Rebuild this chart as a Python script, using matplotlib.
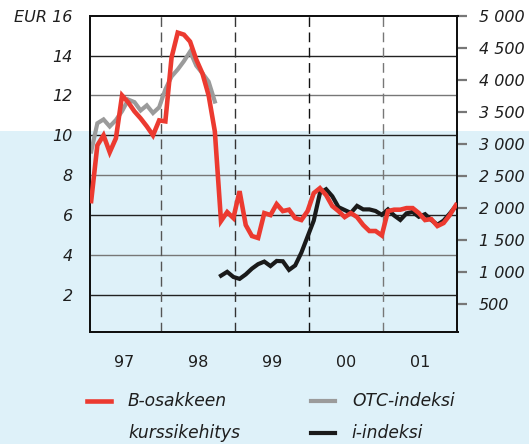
import matplotlib.pyplot as plt
from matplotlib.lines import Line2D
from matplotlib.patches import Rectangle
from matplotlib.ticker import FuncFormatter, FixedLocator

plt.rcParams['font.family'] = ['DejaVu Sans']

# monthly values, Jan 1997 - Dec 2001
b_share = [6.7, 9.5, 10.0, 9.15, 9.85, 12.0, 11.65, 11.2, 10.85, 10.45, 10.0, 10.75,
           10.7, 13.9, 15.15, 15.05, 14.7, 13.8, 13.1, 12.0, 10.2, 5.7, 6.15, 5.85,
           7.2, 5.5, 4.95, 4.85, 6.1, 6.0, 6.55, 6.2, 6.27, 5.85, 5.75, 6.2,
           7.1, 7.35, 7.0, 6.45, 6.2, 5.9, 6.1, 5.9, 5.5, 5.2, 5.2, 4.98,
           6.2, 6.27, 6.27, 6.35, 6.35, 6.1, 5.75, 5.8, 5.45, 5.6, 6.0, 6.5]
# OTC index, Jan 1997 - Sep 1998
otc_index = [2880, 3320, 3380, 3270, 3370, 3510, 3690, 3650, 3520, 3600, 3480, 3570,
             3850, 4050, 4160, 4290, 4440, 4220, 4100, 3970, 3660]
# i-index, Oct 1998 - Dec 2001
i_index = [940, 1000, 920, 890, 960, 1050, 1120, 1160, 1090, 1170, 1165, 1030,
           1100, 1300, 1550, 1800, 2230, 2290, 2180, 2010, 1965, 1920, 2030, 1975,
           1975, 1950, 1890, 1975, 1880, 1810, 1913, 1935, 1860, 1900, 1810, 1735,
           1800, 1910, 2030]

years = [1997, 1998, 1999, 2000, 2001]
year_labels = ["97", "98", "99", "00", "01"]

months = [1997 + (i + 0.75) / 12 for i in range(len(b_share))]
i_start = len(b_share) - len(i_index)

red = "#ec3a30"
gray = "#9b9b9b"
black = "#1a1a1a"
bg = "#def1f9"
txt = "#1e1e1e"

fig = plt.figure(figsize=(5.29, 4.44), dpi=100)
fig.patch.set_facecolor("white")
fig.patches.append(Rectangle((0, 0), 1, 1 - 131 / 444, transform=fig.transFigure,
                             facecolor=bg, edgecolor="none", zorder=-10))

ax = fig.add_axes([89.5 / 529, 1 - 331.7 / 444, 368 / 529, 316 / 444])
ax2 = ax.twinx()
ax.set_zorder(ax2.get_zorder() + 1)
ax.patch.set_visible(False)
ax2.patch.set_facecolor("white")

ax.set_xlim(1997.04, 2002.0)
ax.set_ylim(0.15, 16)
ax2.set_ylim(65, 5000)

# grid lines under the data
levels = [2, 4, 6, 8, 10, 12, 14]
for lv in levels:
    col = "#777777" if lv % 4 == 0 else "#222222"
    ax2.plot([0, 1], [lv, lv], transform=ax.get_yaxis_transform(),
             color=col, lw=1.0, zorder=1)
vcols = {1998: "#555555", 1999: "#333333", 2000: "#111111", 2001: "#777777"}
for yr in years[1:]:
    ax2.axvline(yr, color=vcols[yr], lw=1.0, dashes=(7, 4), zorder=1)

ax2.plot(months[:len(otc_index)], otc_index, color=gray, lw=3.0,
         solid_joinstyle="miter", zorder=3)
ax2.plot(months[i_start:], i_index, color=black, lw=3.0,
         solid_joinstyle="miter", zorder=3)
ax.plot(months, b_share, color=red, lw=3.3, solid_joinstyle="miter", zorder=4)

fs = 11.5

# left axis
ax.yaxis.set_major_locator(FixedLocator([2, 4, 6, 8, 10, 12, 14, 16]))
ax.yaxis.set_major_formatter(FuncFormatter(
    lambda v, p: "EUR 16" if v == 16 else f"{int(v)}"))
ax.tick_params(axis="y", length=0, pad=12, labelsize=fs, labelcolor=txt)
for t in ax.get_yticklabels():
    t.set_fontstyle("italic")

# x axis: labels centred on each year
ax.xaxis.set_major_locator(FixedLocator([]))
ax.xaxis.set_minor_locator(FixedLocator([y + 0.5 for y in years]))
ax.xaxis.set_minor_formatter(FuncFormatter(
    lambda v, p: year_labels[int(v - 1997)]))
ax.tick_params(axis="x", which="minor", length=0, pad=17, labelsize=fs,
               labelcolor=txt)

# right axis
ax2.yaxis.set_major_locator(FixedLocator(list(range(500, 5001, 500))))
ax2.yaxis.set_major_formatter(FuncFormatter(
    lambda v, p: f"{int(v):,}".replace(",", " ")))
ax2.tick_params(axis="y", length=7.5, width=1.6, color="#777777", pad=8,
                labelsize=fs, labelcolor=txt)
for t in ax2.get_yticklabels():
    t.set_fontstyle("italic")

for a in (ax, ax2):
    for s in a.spines.values():
        s.set_color("#111111")
        s.set_linewidth(1.4)

# legend
lfs = 12.3
fig.add_artist(Line2D([87 / 529, 111 / 529], [1 - 401 / 444] * 2, color=red, lw=3.3))
fig.text(128 / 529, 1 - 401 / 444, "B-osakkeen", fontsize=lfs, style="italic",
         va="center", ha="left", color=txt)
fig.text(128 / 529, 1 - 433 / 444, "kurssikehitys", fontsize=lfs, style="italic",
         va="center", ha="left", color=txt)
fig.add_artist(Line2D([311 / 529, 335 / 529], [1 - 401 / 444] * 2, color=gray, lw=3.0))
fig.text(352 / 529, 1 - 401 / 444, "OTC-indeksi", fontsize=lfs, style="italic",
         va="center", ha="left", color=txt)
fig.add_artist(Line2D([311 / 529, 335 / 529], [1 - 433 / 444] * 2, color=black, lw=3.0))
fig.text(351 / 529, 1 - 433 / 444, "i-indeksi", fontsize=lfs, style="italic",
         va="center", ha="left", color=txt)

fig.savefig("out.png", dpi=100, facecolor=fig.get_facecolor())
